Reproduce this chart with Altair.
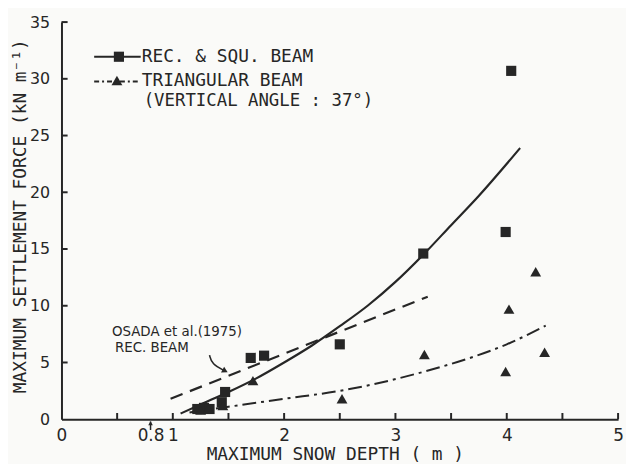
import altair as alt
import pandas as pd

FONT = "DejaVu Sans"
MONO = "DejaVu Sans Mono"
INK = "#262626"
BG = "#fafaf8"

# ---- data ----
sq_x = [1.22, 1.28, 1.33, 1.44, 1.47, 1.70, 1.82, 2.50, 3.25, 3.99, 4.04]
sq_y = [0.9, 1.0, 0.9, 1.5, 2.4, 5.4, 5.6, 6.6, 14.6, 16.5, 30.7]

tri_x = [1.25, 1.32, 1.45, 1.72, 2.52, 3.26, 3.99, 4.02, 4.26, 4.34]
tri_y = [0.8, 0.9, 1.2, 3.4, 1.8, 5.7, 4.2, 9.7, 13.0, 5.9]

solid_x = [1.07, 1.25, 1.5, 1.75, 2.0, 2.25, 2.5, 2.75, 3.0, 3.25, 3.5, 3.75, 4.12]
solid_y = [0.5, 1.3, 2.4, 3.6, 5.0, 6.5, 8.2, 10.0, 12.1, 14.5, 17.1, 19.7, 23.9]

osada_x = [0.98, 3.29]
osada_y = [1.8, 10.8]

dashdot_x = [1.15, 1.5, 2.0, 2.5, 2.81, 3.26, 3.7, 4.0, 4.35]
dashdot_y = [0.6, 1.1, 1.8, 2.5, 3.1, 4.2, 5.5, 6.6, 8.25]

x_tick_values = [0.5, 1, 1.5, 2, 2.5, 3, 3.5, 4, 4.5, 5]
y_tick_values = [5, 10, 15, 20, 25, 30, 35]
x_label_values = [0, 0.8, 1, 2, 3, 4, 5]
y_label_values = [0, 5, 10, 15, 20, 25, 30, 35]

# annotation (OSADA arrow) path in data units
arrow_x = [1.33, 1.35, 1.47]
arrow_y = [5.65, 4.86, 4.25]

W, H = 562, 401

xs = alt.Scale(domain=[0, 5], nice=False, zero=False)
ys = alt.Scale(domain=[0, 35], nice=False, zero=False)

xaxis = alt.Axis(values=x_label_values, format="~g", ticks=False, grid=False,
                 domainColor=INK, domainWidth=2, labelFontSize=17, labelPadding=8,
                 labelColor=INK, labelFont=FONT, labelFlush=False, labelOverlap=False,
                 title="MAXIMUM  SNOW DEPTH ( m )", titleFont=MONO, titleFontSize=18,
                 titleFontWeight="normal", titleColor=INK, titleX=276, titleY=41,
                 titleAlign="center", titleBaseline="alphabetic")
yaxis = alt.Axis(values=y_label_values, ticks=False, grid=False,
                 domainColor=INK, domainWidth=2, labelFontSize=16, labelPadding=12,
                 labelColor=INK, labelFont=FONT, labelFlush=False, labelOverlap=False,
                 title="MAXIMUM SETTLEMENT FORCE (kN m\u207b\u00b9)", titleFont=MONO,
                 titleFontSize=18, titleFontWeight="normal", titleColor=INK,
                 titleAngle=270, titleX=-36, titleY=H / 2 - 5, titleAlign="center",
                 titleBaseline="alphabetic")

df_sq = pd.DataFrame({"x": sq_x, "y": sq_y})
df_tri = pd.DataFrame({"x": tri_x, "y": tri_y})
df_solid = pd.DataFrame({"x": solid_x, "y": solid_y})
df_osada = pd.DataFrame({"x": osada_x, "y": osada_y})
df_dd = pd.DataFrame({"x": dashdot_x, "y": dashdot_y})
df_xt = pd.DataFrame({"x": x_tick_values, "y0": [0] * len(x_tick_values),
                      "y1": [0.55] * len(x_tick_values)})
df_yt = pd.DataFrame({"y": y_tick_values, "x0": [0] * len(y_tick_values),
                      "x1": [0.055] * len(y_tick_values)})
df_arrow = pd.DataFrame({"x": arrow_x, "y": arrow_y, "o": list(range(len(arrow_x)))})
df_one = pd.DataFrame({"a": [0]})

base_axes = alt.Chart(df_solid).mark_line(color=INK, strokeWidth=2.2, interpolate="monotone").encode(
    x=alt.X("x:Q", scale=xs, axis=xaxis),
    y=alt.Y("y:Q", scale=ys, axis=yaxis),
)

osada = alt.Chart(df_osada).mark_line(color=INK, strokeWidth=2.2, strokeDash=[13, 8]).encode(
    x=alt.X("x:Q", scale=xs), y=alt.Y("y:Q", scale=ys))

dashdot = alt.Chart(df_dd).mark_line(color=INK, strokeWidth=2, strokeDash=[14, 5, 3, 5],
                                     interpolate="monotone").encode(
    x=alt.X("x:Q", scale=xs), y=alt.Y("y:Q", scale=ys))

squares = alt.Chart(df_sq).mark_square(color=INK, size=105, opacity=1).encode(
    x=alt.X("x:Q", scale=xs), y=alt.Y("y:Q", scale=ys))

tris = alt.Chart(df_tri).mark_point(shape="triangle-up", filled=True, color=INK, size=120,
                                    opacity=1).encode(
    x=alt.X("x:Q", scale=xs), y=alt.Y("y:Q", scale=ys))

xticks = alt.Chart(df_xt).mark_rule(color=INK, strokeWidth=2).encode(
    x=alt.X("x:Q", scale=xs), y=alt.Y("y0:Q", scale=ys), y2="y1:Q")
yticks = alt.Chart(df_yt).mark_rule(color=INK, strokeWidth=2).encode(
    y=alt.Y("y:Q", scale=ys), x=alt.X("x0:Q", scale=xs), x2="x1:Q")

# arrow under 0.8 label
arrow08 = alt.Chart(df_one).mark_rule(color=INK, strokeWidth=1.5).encode(
    x=alt.datum(0.8, scale=xs), y=alt.datum(-0.95, scale=ys), y2=alt.datum(-0.2))
arrow08_head = alt.Chart(df_one).mark_point(shape="triangle-up", filled=True, color=INK,
                                            size=22, opacity=1).encode(
    x=alt.datum(0.8, scale=xs), y=alt.datum(-0.35, scale=ys))

# OSADA annotation
osada_arrow = alt.Chart(df_arrow).mark_line(color=INK, strokeWidth=1.6, interpolate="basis").encode(
    x=alt.X("x:Q", scale=xs), y=alt.Y("y:Q", scale=ys), order="o:Q")
osada_head = alt.Chart(df_one).mark_point(shape="triangle-right", filled=True, color=INK,
                                          size=45, angle=28, opacity=1).encode(
    x=alt.datum(arrow_x[-1], scale=xs), y=alt.datum(arrow_y[-1], scale=ys))
osada_t1 = alt.Chart(df_one).mark_text(font=FONT, fontSize=13.5, color=INK, align="left",
                                       baseline="middle").encode(
    x=alt.value(51), y=alt.value(313), text=alt.value("OSADA et al.(1975)"))
osada_t2 = alt.Chart(df_one).mark_text(font=FONT, fontSize=13.5, color=INK, align="left",
                                       baseline="middle").encode(
    x=alt.value(54), y=alt.value(329), text=alt.value("REC. BEAM"))

# legend
leg_line1 = alt.Chart(df_one).mark_rule(color=INK, strokeWidth=2.2).encode(
    x=alt.value(33), x2=alt.value(80), y=alt.value(35))
leg_sq = alt.Chart(df_one).mark_square(color=INK, size=105, opacity=1).encode(
    x=alt.value(58), y=alt.value(35))
leg_t1 = alt.Chart(df_one).mark_text(font=MONO, fontSize=18, color=INK, align="left",
                                     baseline="middle").encode(
    x=alt.value(81), y=alt.value(35), text=alt.value("REC. & SQU. BEAM"))
leg_line2 = alt.Chart(df_one).mark_rule(color=INK, strokeWidth=2, strokeDash=[5, 3, 2, 3]).encode(
    x=alt.value(33), x2=alt.value(80), y=alt.value(60))
leg_tri = alt.Chart(df_one).mark_point(shape="triangle-up", filled=True, color=INK, size=120,
                                       opacity=1).encode(x=alt.value(56), y=alt.value(59))
leg_t2 = alt.Chart(df_one).mark_text(font=MONO, fontSize=18, color=INK, align="left",
                                     baseline="middle").encode(
    x=alt.value(81), y=alt.value(60), text=alt.value("TRIANGULAR BEAM"))
leg_t3 = alt.Chart(df_one).mark_text(font=MONO, fontSize=17.5, color=INK, align="left",
                                     baseline="middle").encode(
    x=alt.value(83), y=alt.value(80), text=alt.value("(VERTICAL ANGLE : 37\u00b0)"))

chart = alt.layer(
    base_axes, osada, dashdot, xticks, yticks, squares, tris,
    arrow08, arrow08_head, osada_arrow, osada_head, osada_t1, osada_t2,
    leg_line1, leg_sq, leg_t1, leg_line2, leg_tri, leg_t2, leg_t3,
).properties(
    width=W, height=H,
    padding={"left": 54, "top": 12, "right": 8, "bottom": 43},
    autosize=alt.AutoSizeParams(type="none"),
    background=BG,
).configure_view(stroke=None)

chart.save("out.html", embed_options={"renderer": "svg", "actions": False})
